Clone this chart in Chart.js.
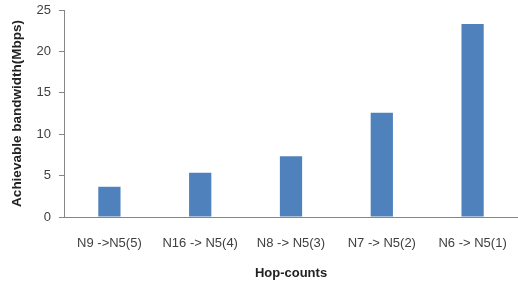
<!DOCTYPE html>
<html>
<head>
<meta charset="utf-8">
<script src="https://cdn.jsdelivr.net/npm/chart.js@4"></script>
<style>
  html, body { margin: 0; padding: 0; background: #fff; }
  #wrap { width: 518px; height: 285px; }
</style>
</head>
<body>
<div id="wrap"><canvas id="chart"></canvas></div>
<script>
const categories = ['N9 ->N5(5)', 'N16 -> N5(4)', 'N8 -> N5(3)', 'N7 -> N5(2)', 'N6 -> N5(1)'];
const bandwidth = [3.65, 5.35, 7.35, 12.6, 23.3];
const yTicks = [0, 5, 10, 15, 20, 25];

const axisGrey = '#868686';
const textColor = '#404040';
const font = 'Liberation Sans';

new Chart(document.getElementById('chart'), {
  type: 'bar',
  data: {
    labels: categories,
    datasets: [{
      data: bandwidth,
      backgroundColor: '#4F81BD',
      categoryPercentage: 1,
      barPercentage: 0.245
    }]
  },
  options: {
    responsive: true,
    maintainAspectRatio: false,
    animation: false,
    layout: { padding: { left: 9, top: 10, right: 0, bottom: 0 } },
    plugins: {
      legend: { display: false },
      tooltip: { enabled: false }
    },
    scales: {
      x: {
        afterFit: s => { s.height = 68; s.paddingLeft = 0; s.paddingRight = 0; },
        border: { display: true, color: axisGrey, width: 1 },
        grid: { display: false, drawTicks: false },
        ticks: { color: textColor, font: { family: font, size: 13 }, padding: 19, maxRotation: 0, autoSkip: false },
        title: {
          display: true,
          text: 'Hop-counts',
          color: '#222',
          font: { family: font, size: 13, weight: 'bold' },
          padding: { top: 0, bottom: 4 }
        }
      },
      y: {
        min: 0,
        max: 25,
        afterFit: s => { s.width = 55; s.paddingTop = 0; s.paddingBottom = 0; },
        afterBuildTicks: s => { s.ticks = yTicks.map(v => ({ value: v })); },
        border: { display: true, color: axisGrey, width: 1 },
        grid: { drawOnChartArea: false, drawTicks: true, tickLength: 5, color: axisGrey },
        ticks: { color: textColor, font: { family: font, size: 13 }, padding: 8 },
        title: {
          display: true,
          text: 'Achievable bandwidth(Mbps)',
          color: '#222',
          font: { family: font, size: 13.5, weight: 'bold' },
          padding: 0
        }
      }
    }
  }
});
</script>
</body>
</html>
